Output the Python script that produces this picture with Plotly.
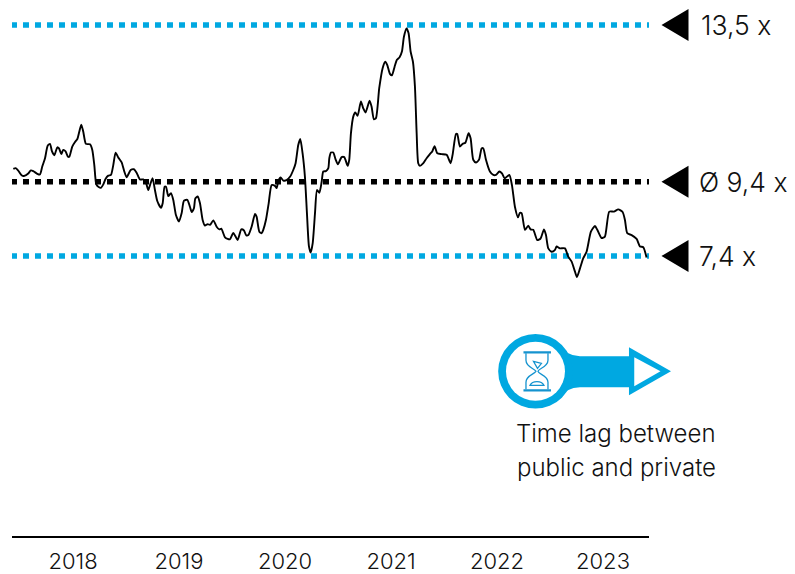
import plotly.graph_objects as go

years = [2018, 2019, 2020, 2021, 2022, 2023]
x_range = [2017.4245, 2023.434]
y_range = [0, 13.95]
level_x = [2017.415, 2023.44]

dates = [
2017.437,2017.459,2017.484,2017.515,2017.537,2017.578,2017.603,2017.625,2017.663,2017.688,
2017.710,2017.736,2017.761,2017.783,2017.802,2017.824,2017.852,2017.868,2017.890,2017.908,
2017.930,2017.953,2017.965,2017.993,2018.019,2018.041,2018.059,2018.078,2018.097,2018.122,
2018.160,2018.182,2018.201,2018.220,2018.242,2018.264,2018.286,2018.308,2018.333,2018.358,
2018.380,2018.402,2018.427,2018.459,2018.484,2018.506,2018.544,2018.575,2018.600,2018.632,
2018.663,2018.688,2018.710,2018.732,2018.751,2018.773,2018.795,2018.830,2018.846,2018.864,
2018.877,2018.899,2018.924,2018.946,2018.971,2019.000,2019.025,2019.047,2019.078,2019.103,
2019.119,2019.141,2019.154,2019.176,2019.198,2019.223,2019.245,2019.270,2019.292,2019.324,
2019.355,2019.380,2019.399,2019.434,2019.459,2019.481,2019.512,2019.534,2019.553,2019.588,
2019.613,2019.635,2019.654,2019.685,2019.717,2019.732,2019.758,2019.780,2019.795,2019.820,
2019.846,2019.874,2019.905,2019.921,2019.937,2019.959,2019.984,2020.015,2020.047,2020.078,
2020.100,2020.125,2020.144,2020.166,2020.188,2020.207,2020.226,2020.242,2020.261,2020.283,
2020.302,2020.324,2020.346,2020.361,2020.386,2020.408,
2020.418,2020.433,2020.455,2020.477,2020.499,2020.534,2020.559,2020.591,2020.606,2020.622,
2020.644,2020.663,2020.685,2020.716,2020.738,2020.760,2020.798,2020.817,2020.839,2020.858,
2020.889,2020.921,2020.946,2020.965,2020.990,2021.009,2021.034,2021.056,2021.081,2021.103,
2021.122,2021.147,2021.166,2021.185,2021.207,2021.226,2021.242,2021.257,2021.273,2021.305,
2021.336,2021.367,2021.389,2021.411,2021.437,2021.477,2021.525,2021.562,2021.581,2021.613,
2021.625,2021.650,2021.676,2021.701,2021.732,2021.751,2021.776,2021.801,2021.830,2021.855,
2021.871,2021.896,2021.933,2021.965,2021.990,2022.022,2022.047,2022.072,2022.116,2022.141,
2022.169,2022.198,2022.216,2022.232,2022.264,2022.295,2022.317,2022.342,2022.380,2022.411,
2022.443,2022.462,2022.484,2022.515,2022.547,2022.562,2022.594,2022.641,2022.672,2022.704,
2022.735,2022.754,2022.783,2022.814,2022.845,2022.886,2022.924,2022.946,2022.987,2023.018,
2023.059,2023.103,2023.144,2023.185,2023.207,2023.229,2023.270,2023.317,2023.349,2023.380,
2023.411,
]
multiple = [
9.70,9.72,9.65,9.53,9.51,9.58,9.66,9.64,9.57,9.55,
9.76,9.98,10.31,10.36,10.16,10.06,10.27,10.24,10.09,10.20,
10.16,10.02,10.02,10.29,10.41,10.49,10.68,10.87,10.68,10.36,
10.35,10.20,9.80,9.29,9.22,9.20,9.29,9.44,9.52,9.54,
9.80,10.13,10.00,9.87,9.63,9.48,9.67,9.69,9.60,9.42,
9.42,9.34,9.14,9.32,9.45,9.14,8.85,8.67,8.79,9.23,
9.23,8.98,9.06,8.88,8.48,8.31,8.53,8.86,8.88,8.70,
8.56,8.66,8.92,8.97,8.79,8.35,8.20,8.24,8.22,8.34,
8.17,8.10,8.12,7.89,7.85,7.84,8.01,7.91,7.82,8.10,
8.07,7.94,7.95,8.17,8.51,8.44,8.04,8.00,8.09,8.35,
8.79,9.27,9.25,9.19,9.38,9.47,9.39,9.40,9.49,9.67,
9.85,10.33,10.49,10.11,9.49,8.53,7.65,7.49,7.73,8.53,
9.14,9.07,9.36,9.63,9.64,9.71,
9.98,10.13,10.13,9.95,9.82,10.01,10.01,9.78,9.94,10.64,
11.08,11.19,11.10,11.48,11.30,11.19,11.50,11.34,11.01,11.04,
11.83,12.36,12.53,12.44,12.21,12.17,12.40,12.58,12.65,12.80,
13.19,13.41,13.28,12.80,12.53,11.87,10.64,9.85,9.78,9.85,
9.98,10.09,10.16,10.30,10.11,10.09,10.07,9.85,10.07,10.62,
10.62,10.29,10.36,10.39,10.64,10.51,9.94,9.87,9.94,10.24,
10.24,9.94,9.63,9.54,9.54,9.63,9.58,9.45,9.54,9.27,
8.70,8.42,8.54,8.53,8.09,8.20,8.10,8.09,7.82,7.86,
8.10,7.95,7.60,7.51,7.56,7.65,7.60,7.60,7.38,7.25,
6.99,6.84,7.07,7.34,7.51,8.04,8.19,8.09,7.87,7.91,
8.57,8.57,8.63,8.56,8.35,8.00,7.95,7.85,7.65,7.63,
7.36,
]

level_values = [13.5, 9.36, 7.4]
level_labels = ["13,5 x", "Ø 9,4 x", "7,4 x"]
level_colors = ["#00a8e1", "#000000", "#00a8e1"]
label_x = [2023.906, 2023.887, 2023.887]
caption = ["Time lag between", "public and private"]
caption_y = [2.72, 1.82]

BLUE = "#00a8e1"
FONT = "Inter"

def px(x):
    return (x - x_range[0]) / (x_range[1] - x_range[0])
def py(y):
    return (y - y_range[0]) / (y_range[1] - y_range[0])

fig = go.Figure()
for v, c in zip(level_values, level_colors):
    fig.add_trace(go.Scatter(x=level_x, y=[v, v], mode="lines", cliponaxis=False,
                             line=dict(color=c, width=5.5, dash="6px,6px"),
                             showlegend=False, hoverinfo="skip"))
fig.add_trace(go.Scatter(x=dates, y=multiple, mode="lines", cliponaxis=False,
                         line=dict(color="#000000", width=1.9, shape="spline", smoothing=0.6),
                         showlegend=False, hoverinfo="skip"))

shapes = []
annotations = []
for v, t, lx in zip(level_values, level_labels, label_x):
    shapes.append(dict(type="path", xref="paper", yref="paper", xsizemode="pixel", ysizemode="pixel",
                       xanchor=px(2023.679), yanchor=py(v), path="M-13.5,0 L13.5,16 L13.5,-16 Z",
                       fillcolor="#000000", line=dict(width=0), layer="above"))
    annotations.append(dict(x=px(lx), y=py(v), xref="paper", yref="paper", text=t, showarrow=False,
                            xanchor="left", yanchor="middle",
                            font=dict(family=FONT, size=26.5, weight=300, color="#111111")))

ax, ay = px(2022.363), py(4.351)
def icon(kind, **kw):
    d = dict(type=kind, xref="paper", yref="paper", xsizemode="pixel", ysizemode="pixel",
             xanchor=ax, yanchor=ay, layer="above")
    d.update(kw)
    return d

shapes += [
    icon("path", path="M22.8,28 Q31,15 44.5,15 L93.5,15 L93.5,24 L135.5,0 L93.5,-24 L93.5,-16 L44.5,-16 Q31,-16 22.8,-28 Z",
         fillcolor=BLUE, line=dict(width=0)),
    icon("circle", x0=-37.3, x1=37.3, y0=-37.3, y1=37.3, fillcolor=BLUE, line=dict(width=0)),
    icon("circle", x0=-29.5, x1=29.5, y0=-29.5, y1=29.5, fillcolor="#ffffff", line=dict(width=0)),
    icon("path", path="M98.8,14 L125,0 L98.8,-15 Z", fillcolor="#ffffff", line=dict(width=0)),
    icon("path", path="M-12,19 L15.5,19 M-12,-19 L15.5,-19", line=dict(color="#1593cf", width=2.2)),
    icon("path", path="M-9.5,18 L-9.5,11 C-9.5,4 -1,3 0.5,0 C-1,-3 -9.5,-4 -9.5,-11 L-9.5,-18 "
                      "M12.5,18 L12.5,11 C12.5,4 3,3 2.5,0 C3,-3 12.5,-4 12.5,-11 L12.5,-18",
         line=dict(color="#1593cf", width=1.3)),
    icon("path", path="M-5.5,-14 C-3,-9 6,-9 8.5,-14 Z M-2,10 L6,8 L2,3 Z",
         line=dict(color="#1593cf", width=1.2)),
]

for text, y in zip(caption, caption_y):
    annotations.append(dict(x=2023.123, y=y, xref="x", yref="y", text=text, showarrow=False,
                            xanchor="center", yanchor="middle",
                            font=dict(family=FONT, size=24, weight=300, color="#111111")))

fig.update_layout(
    width=787, height=566,
    margin=dict(l=4, r=146, t=0, b=38, pad=0),
    paper_bgcolor="#ffffff", plot_bgcolor="#ffffff",
    showlegend=False, shapes=shapes, annotations=annotations,
    xaxis=dict(range=x_range, tickmode="array", tickvals=years, automargin=False,
               ticktext=[str(y) for y in years], showgrid=False, zeroline=False,
               showline=True, linecolor="#000000", linewidth=2,
               ticks="outside", ticklen=5, tickcolor="rgba(0,0,0,0)",
               tickfont=dict(family=FONT, size=22, weight=300, color="#111111")),
    yaxis=dict(range=y_range, visible=False),
)
fig.write_html("out.html", default_width="787px", default_height="566px")
